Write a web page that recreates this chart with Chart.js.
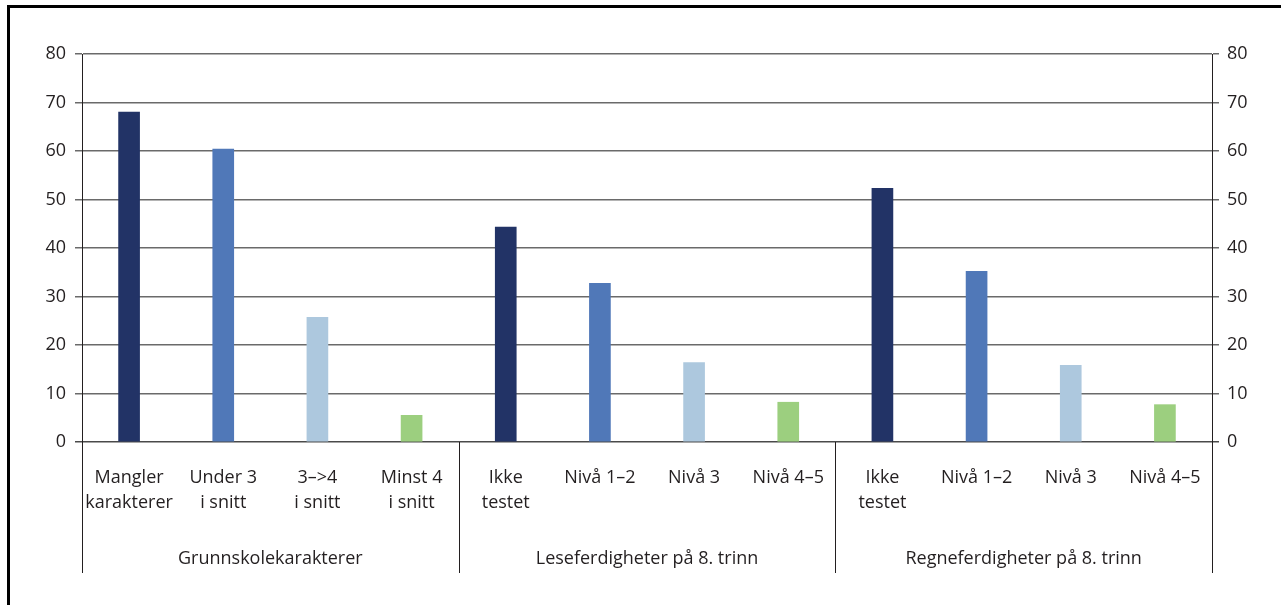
<!DOCTYPE html>
<html lang="no">
<head>
<meta charset="utf-8">
<title>Andel uten fullført videregående</title>
<script src="https://cdn.jsdelivr.net/npm/chart.js@4/dist/chart.umd.min.js"></script>
<style>
	html, body { margin: 0; padding: 0; background: #fff; }
	#wrap { position: relative; width: 1281px; height: 605px; overflow: hidden; }
	#frame {
		position: absolute; left: 7px; top: 5px; right: -10px; bottom: -10px;
		border-top: 3px solid #000; border-left: 3px solid #000;
		pointer-events: none;
	}
	canvas { position: absolute; left: 0; top: 0; }
</style>
</head>
<body>
<div id="wrap">
	<canvas id="chart" width="1281" height="605"></canvas>
	<div id="frame"></div>
</div>
<script>
// Data
const categories = [
	["Mangler", "karakterer"], ["Under 3", "i snitt"], ["3\u2013>4", "i snitt"], ["Minst 4", "i snitt"],
	["Ikke", "testet"], "Nivå 1\u20132", "Nivå 3", "Nivå 4\u20135",
	["Ikke", "testet"], "Nivå 1\u20132", "Nivå 3", "Nivå 4\u20135"
];
const values = [68.0, 60.4, 25.7, 5.5, 44.3, 32.7, 16.4, 8.2, 52.3, 35.2, 15.8, 7.7];
const groups = ["Grunnskolekarakterer", "Leseferdigheter på 8. trinn", "Regneferdigheter på 8. trinn"];
const groupSize = 4;
const yTicks = [0, 10, 20, 30, 40, 50, 60, 70, 80];

const levelColors = ["#223366", "#5078b8", "#adc8de", "#9ccf7f"];
const textColor = "#231f20";
const fontFamily = "'Open Sans', 'Noto Sans', sans-serif";
const fontSize = 18;

// Group labels and separators under the x axis
const groupAxisPlugin = {
	id: "groupAxis",
	afterDraw(chart) {
		const { ctx, chartArea, scales } = chart;
		const x = scales.x;
		const half = (x.getPixelForValue(1) - x.getPixelForValue(0)) / 2;
		const lineBottom = 573;
		ctx.save();
		ctx.strokeStyle = textColor;
		ctx.lineWidth = 1;
		for (let g = 0; g <= groups.length; g++) {
			const idx = Math.min(g * groupSize, categories.length - 1);
			let px = x.getPixelForValue(idx) + (g * groupSize >= categories.length ? half : -half);
			px = Math.round(px) + 0.5;
			ctx.beginPath();
			ctx.moveTo(px, chartArea.bottom);
			ctx.lineTo(px, lineBottom);
			ctx.stroke();
		}
		ctx.fillStyle = textColor;
		ctx.font = `${fontSize}px ${fontFamily}`;
		ctx.textAlign = "center";
		ctx.textBaseline = "middle";
		groups.forEach((name, g) => {
			const a = x.getPixelForValue(g * groupSize);
			const b = x.getPixelForValue(g * groupSize + groupSize - 1);
			ctx.fillText(name, (a + b) / 2, 559);
		});
		ctx.restore();
	}
};

function yAxis(position) {
	return {
		type: "linear",
		position,
		min: 0,
		max: 80,
		afterBuildTicks: (scale) => { scale.ticks = yTicks.map((v) => ({ value: v })); },
		afterFit: (scale) => { scale.width = position === "left" ? 82 : 69; },
		ticks: {
			color: textColor,
			padding: position === "left" ? 9 : 8,
			font: { family: fontFamily, size: fontSize }
		},
		grid: {
			drawOnChartArea: position === "left",
			tickLength: 7,
			lineWidth: 1.5,
			color: (c) => (c.tick && c.tick.value === 0 ? "#4a4a4a" : "#6a6a6a")
		},
		border: { display: true, color: textColor, width: 1 }
	};
}

new Chart(document.getElementById("chart"), {
	type: "bar",
	data: {
		labels: categories,
		datasets: [{
			data: values,
			backgroundColor: values.map((v, i) => levelColors[i % groupSize]),
			barThickness: 21,
			borderWidth: 0
		}]
	},
	options: {
		responsive: false,
		animation: false,
		layout: { padding: { top: 54, left: 0, right: 0, bottom: 0 } },
		plugins: { legend: { display: false }, tooltip: { enabled: false } },
		scales: {
			x: {
				type: "category",
				afterFit: (scale) => { scale.height = 605 - 442; },
				grid: { display: false, drawTicks: false },
				border: { display: false },
				ticks: {
					color: textColor,
					padding: 23,
					maxRotation: 0,
					autoSkip: false,
					font: { family: fontFamily, size: fontSize, lineHeight: 25 / fontSize }
				}
			},
			y: yAxis("left"),
			y2: yAxis("right")
		}
	},
	plugins: [groupAxisPlugin]
});
</script>
</body>
</html>
